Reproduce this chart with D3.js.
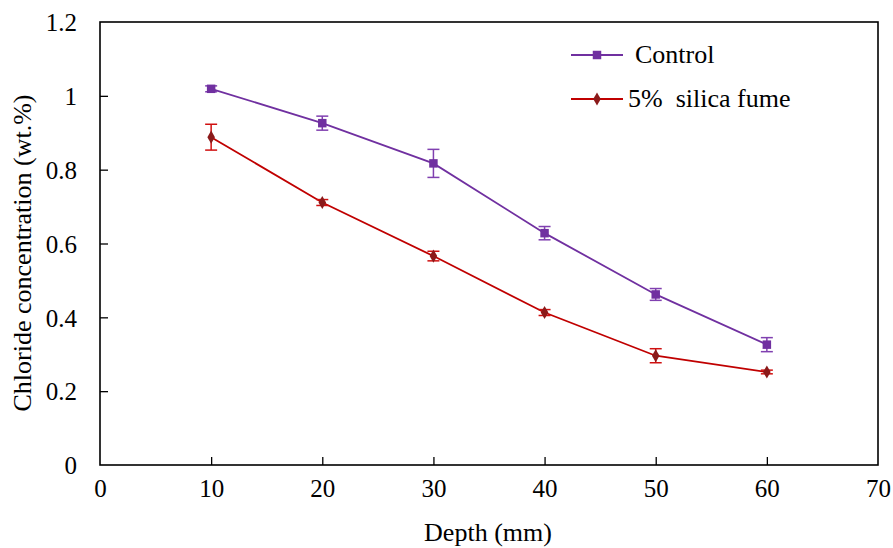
<!DOCTYPE html>
<html>
<head>
<meta charset="utf-8">
<script src="https://cdnjs.cloudflare.com/ajax/libs/d3/7.8.5/d3.min.js"></script>
<style>
body { margin: 0; background: #fff; }
</style>
</head>
<body>
<script>
var width = 893;
var height = 548;
var serif = "Liberation Serif";

var depth = [10, 20, 30, 40, 50, 60];
var control = [1.019, 0.926, 0.817, 0.628, 0.462, 0.326];
var controlErr = [0.008, 0.019, 0.038, 0.018, 0.016, 0.019];
var silica = [0.888, 0.711, 0.566, 0.413, 0.296, 0.252];
var silicaErr = [0.035, 0.008, 0.013, 0.008, 0.019, 0.005];
var xTicks = [0, 10, 20, 30, 40, 50, 60, 70];
var yTicks = [0, 0.2, 0.4, 0.6, 0.8, 1, 1.2];

var plotLeft = 100, plotRight = 878, plotTop = 22, plotBottom = 465;

var svg = d3.select("body").append("svg").attr("width", width).attr("height", height)
    .attr("font-family", serif);

var x = d3.scaleLinear().domain([0, 70]).range([plotLeft, plotRight]);
var y = d3.scaleLinear().domain([0, 1.2]).range([plotBottom, plotTop]);

// frame
svg.append("rect")
    .attr("x", plotLeft).attr("y", plotTop)
    .attr("width", plotRight - plotLeft).attr("height", plotBottom - plotTop)
    .attr("fill", "none").attr("stroke", "#000").attr("stroke-width", 1.6);

var xAxis = svg.append("g").attr("transform", "translate(0," + plotBottom + ")")
    .call(d3.axisBottom(x).tickValues(xTicks).tickSize(-8).tickPadding(12).tickFormat(d3.format("d")));
var yAxis = svg.append("g").attr("transform", "translate(" + plotLeft + ",0)")
    .call(d3.axisLeft(y).tickValues(yTicks).tickSize(-8).tickPadding(23).tickFormat(function (d) { return d3.format("")(d); }));

[xAxis, yAxis].forEach(function (g) {
    g.attr("font-family", serif).attr("font-size", 25);
    g.select(".domain").remove();
    g.selectAll(".tick line").attr("stroke", "#000").attr("stroke-width", 1.3);
    g.selectAll("text").attr("font-family", serif).attr("font-size", 25).attr("fill", "#000");
});
yAxis.selectAll("text").attr("dy", "0.35em");
xAxis.selectAll("text").attr("dy", "0.8em");
xAxis.selectAll(".tick").filter(function (d) { return d === 0 || d === 70; }).select("line").remove();
yAxis.selectAll(".tick").filter(function (d) { return d === 0 || d === 1.2; }).select("line").remove();

svg.append("text")
    .attr("x", (plotLeft + plotRight) / 2 - 1).attr("y", 541)
    .attr("text-anchor", "middle").attr("font-size", 26).attr("font-family", serif)
    .text("Depth (mm)");
svg.append("text")
    .attr("transform", "translate(31,253) rotate(-90)")
    .attr("text-anchor", "middle").attr("font-size", 26).attr("font-family", serif)
    .text("Chloride concentration (wt.%)");

var series = [
    {name: "Control", vals: control, err: controlErr, line: "#7030A0", errColor: "#8040b0", marker: "square", mColor: "#7030A0"},
    {name: "5%  silica fume", vals: silica, err: silicaErr, line: "#C00000", errColor: "#d01010", marker: "diamond", mColor: "#8B1a1a"}
];

function markerPath(s) {
    return d3.symbol()
        .type(s.marker === "square" ? d3.symbolSquare : d3.symbolDiamond)
        .size(s.marker === "square" ? 72 : 50)();
}

var line = d3.line().x(function (d) { return x(d[0]); }).y(function (d) { return y(d[1]); });

series.forEach(function (s) {
    var pts = depth.map(function (d, i) { return [d, s.vals[i], s.err[i]]; });
    svg.append("path").datum(pts)
        .attr("d", line).attr("fill", "none")
        .attr("stroke", s.line).attr("stroke-width", 1.8);

    var eb = svg.append("g").selectAll("g").data(pts).enter().append("g");
    eb.append("line")
        .attr("x1", function (d) { return x(d[0]); }).attr("x2", function (d) { return x(d[0]); })
        .attr("y1", function (d) { return y(d[1] - d[2]); }).attr("y2", function (d) { return y(d[1] + d[2]); })
        .attr("stroke", s.errColor).attr("stroke-width", 1.5);
    [-1, 1].forEach(function (sgn) {
        eb.append("line")
            .attr("x1", function (d) { return x(d[0]) - 6; }).attr("x2", function (d) { return x(d[0]) + 6; })
            .attr("y1", function (d) { return y(d[1] + sgn * d[2]); }).attr("y2", function (d) { return y(d[1] + sgn * d[2]); })
            .attr("stroke", s.errColor).attr("stroke-width", 1.5);
    });

    svg.append("g").selectAll("path").data(pts).enter().append("path")
        .attr("transform", function (d) { return "translate(" + x(d[0]) + "," + y(d[1]) + ")"; })
        .attr("d", markerPath(s))
        .attr("fill", s.mColor);
});

// legend
var legY = [55, 99];
series.forEach(function (s, i) {
    var g = svg.append("g").attr("transform", "translate(571," + legY[i] + ")");
    g.append("line").attr("x1", 0).attr("x2", 52).attr("y1", 0).attr("y2", 0)
        .attr("stroke", s.line).attr("stroke-width", 1.8);
    g.append("path").attr("transform", "translate(26,0)")
        .attr("d", markerPath(s))
        .attr("fill", s.mColor);
    g.append("text").attr("x", i === 0 ? 64 : 57).attr("y", 8)
        .attr("font-size", 26).attr("font-family", serif).style("white-space", "pre")
        .text(s.name);
});
</script>
</body>
</html>
